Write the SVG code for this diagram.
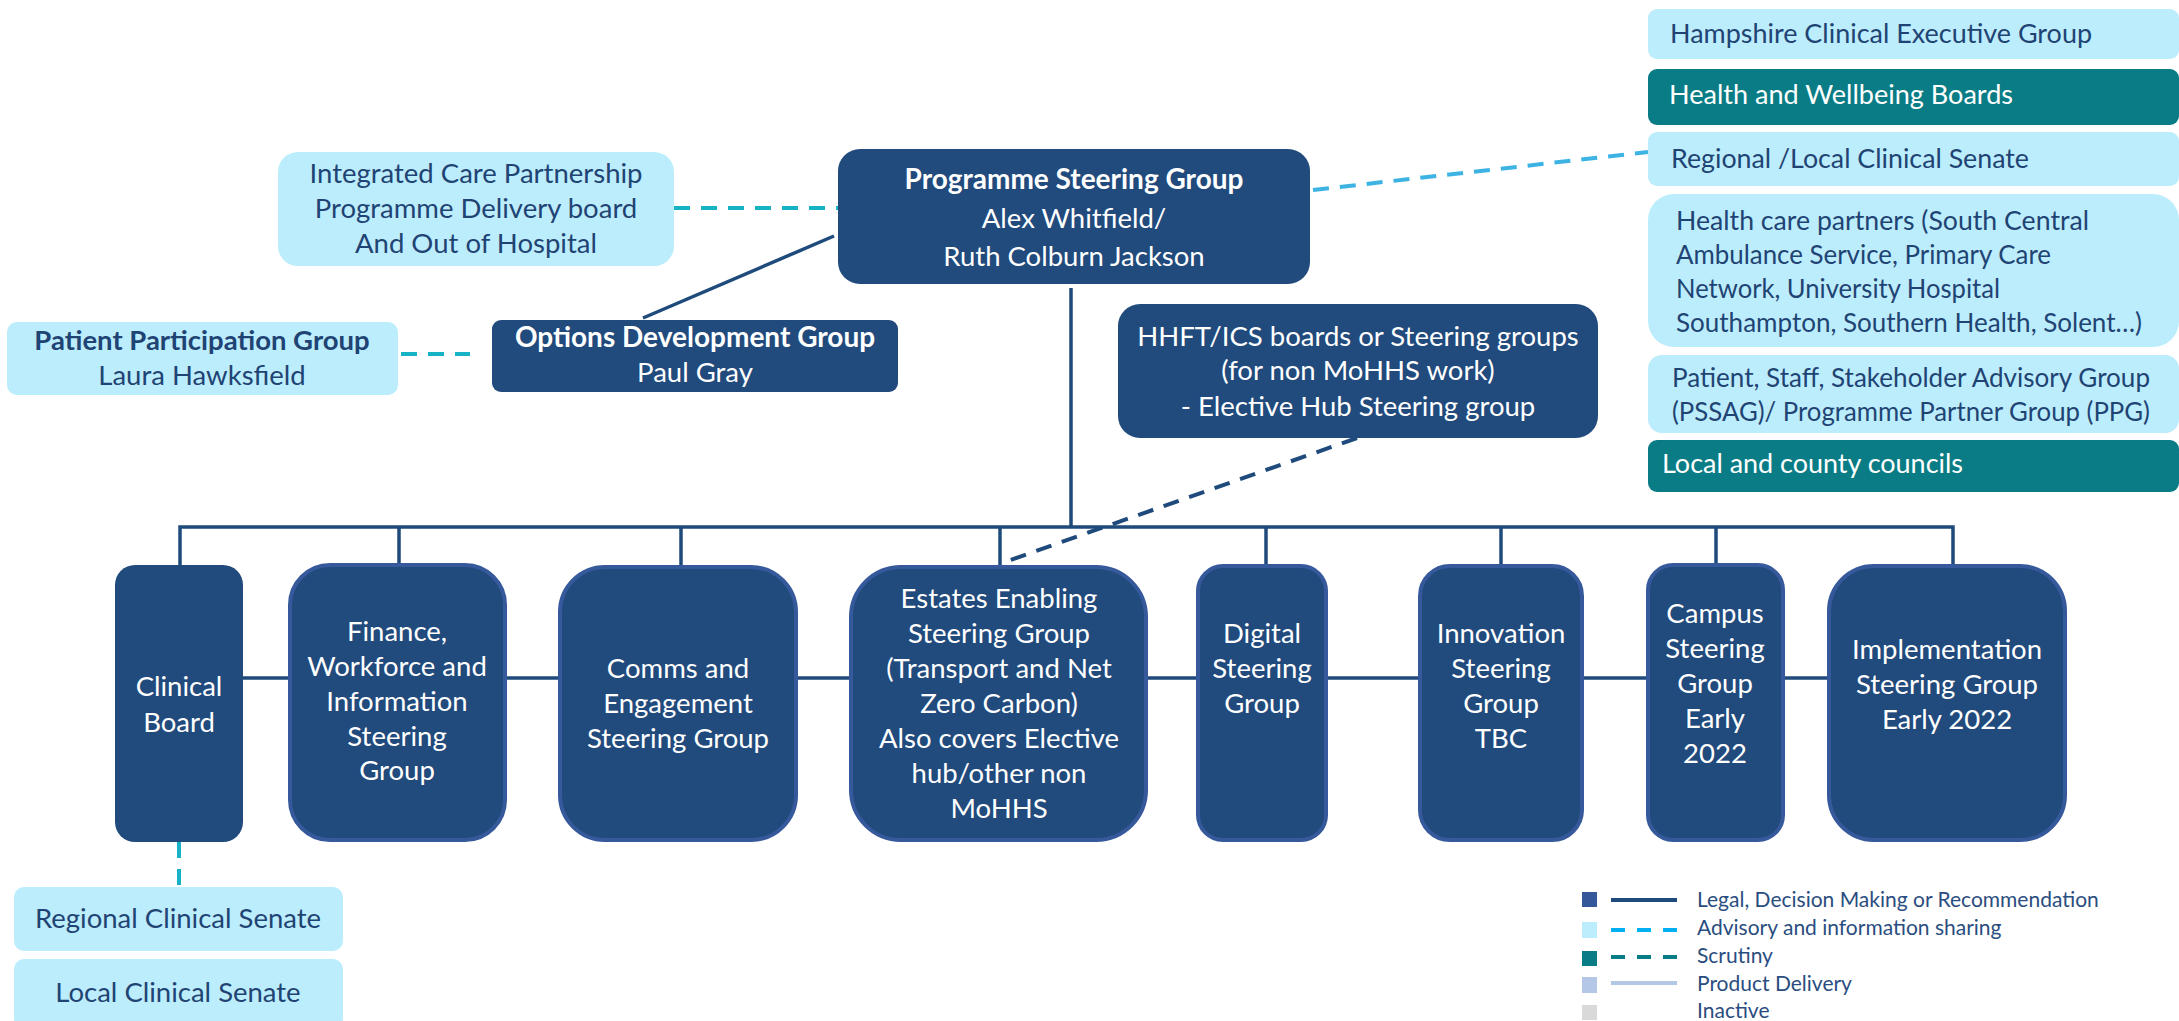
<svg xmlns="http://www.w3.org/2000/svg" width="2179" height="1021" viewBox="0 0 2179 1021">
<style>
text{font-family:Lato,"Liberation Sans",sans-serif;}
.dk{fill:#214a7d;}
.dkb{fill:#214a7d;stroke:#36599b;stroke-width:4;}
.lt{fill:#bcedfc;}
.tl{fill:#0a7c85;}
.w{fill:#ffffff;font-size:27.5px;text-anchor:middle;}
.wb{fill:#ffffff;font-size:28px;font-weight:bold;text-anchor:middle;}
.d{fill:#1f4474;font-size:27.5px;text-anchor:middle;}
.db{fill:#1f4474;font-size:27.5px;font-weight:bold;text-anchor:middle;}
.dl{fill:#1f4474;font-size:27.5px;}
.wl{fill:#ffffff;font-size:27.5px;}
.leg{fill:#2a4d80;font-size:21px;}
.solid{stroke:#1f4a7c;stroke-width:3.5;fill:none;}
.adv{stroke:#17b3c4;stroke-width:4;stroke-dasharray:16 11;fill:none;}
.adv2{stroke:#3db3e3;stroke-width:4;stroke-dasharray:16 11;fill:none;}
.nav{stroke:#1f4a7c;stroke-width:4;stroke-dasharray:16 11;fill:none;}
</style>
<g id="connectors">
<line class="adv" x1="674" y1="208" x2="838" y2="208"/>
<line class="adv" x1="401" y1="354" x2="470" y2="354"/>
<line class="solid" x1="834" y1="236" x2="643" y2="318"/>
<line class="adv2" x1="1313" y1="190" x2="1648" y2="152"/>
<line class="solid" x1="1071" y1="288" x2="1071" y2="527"/>
<polyline class="solid" points="180,565 180,527 1953,527 1953,564"/>
<line class="solid" x1="399" y1="527" x2="399" y2="563"/>
<line class="solid" x1="681" y1="527" x2="681" y2="565"/>
<line class="solid" x1="1000" y1="527" x2="1000" y2="565"/>
<line class="solid" x1="1266" y1="527" x2="1266" y2="564"/>
<line class="solid" x1="1501" y1="527" x2="1501" y2="564"/>
<line class="solid" x1="1716" y1="527" x2="1716" y2="563"/>
<line class="solid" x1="243" y1="678" x2="1827" y2="678"/>
<line class="nav" x1="1357" y1="438" x2="1002" y2="563"/>
<line class="adv" x1="179" y1="842" x2="179" y2="887"/>
</g>
<g id="psg">
<rect class="dk" x="838" y="149" width="472" height="135" rx="22"/>
<text class="wb" x="1074" y="189">Programme Steering Group</text>
<text class="w" x="1074" y="228">Alex Whitfield/</text>
<text class="w" x="1074" y="266">Ruth Colburn Jackson</text>
</g>
<g id="icp">
<rect class="lt" x="278" y="152" width="396" height="114" rx="20"/>
<text class="d" x="476" y="183">Integrated Care Partnership</text>
<text class="d" x="476" y="218">Programme Delivery board</text>
<text class="d" x="476" y="253">And Out of Hospital</text>
</g>
<g id="ppg">
<rect class="lt" x="7" y="322" width="391" height="73" rx="10"/>
<text class="db" x="202" y="350">Patient Participation Group</text>
<text class="d" x="202" y="385">Laura Hawksfield</text>
</g>
<g id="odg">
<rect class="dk" x="492" y="320" width="406" height="72" rx="9"/>
<text class="wb" x="695" y="347">Options Development Group</text>
<text class="w" x="695" y="382">Paul Gray</text>
</g>
<g id="hhft">
<rect class="dk" x="1118" y="304" width="480" height="134" rx="22"/>
<text class="w" x="1358" y="346">HHFT/ICS boards or Steering groups</text>
<text class="w" x="1358" y="380">(for non MoHHS work)</text>
<text class="w" x="1358" y="416">- Elective Hub Steering group</text>
</g>
<g id="hampshire">
<rect class="lt" x="1648" y="9" width="531" height="50" rx="9"/>
<text class="dl" x="1670" y="43" textLength="422" lengthAdjust="spacingAndGlyphs">Hampshire Clinical Executive Group</text>
</g>
<g id="hwb">
<rect class="tl" x="1648" y="69" width="531" height="56" rx="9"/>
<text class="wl" x="1669" y="104" textLength="344" lengthAdjust="spacingAndGlyphs">Health and Wellbeing Boards</text>
</g>
<g id="senate-right">
<rect class="lt" x="1648" y="132" width="531" height="54" rx="9"/>
<text class="dl" x="1671" y="168" textLength="358" lengthAdjust="spacingAndGlyphs">Regional /Local Clinical Senate</text>
</g>
<g id="hcp">
<rect class="lt" x="1648" y="194" width="531" height="153" rx="26"/>
<text class="dl" x="1676" y="230" textLength="413" lengthAdjust="spacingAndGlyphs">Health care partners (South Central</text>
<text class="dl" x="1676" y="264" textLength="375" lengthAdjust="spacingAndGlyphs">Ambulance Service, Primary Care</text>
<text class="dl" x="1676" y="298" textLength="324" lengthAdjust="spacingAndGlyphs">Network, University Hospital</text>
<text class="dl" x="1676" y="332" textLength="466" lengthAdjust="spacingAndGlyphs">Southampton, Southern Health, Solent…)</text>
</g>
<g id="pssag">
<rect class="lt" x="1648" y="355" width="531" height="78" rx="14"/>
<text class="dl" x="1672" y="387" textLength="478" lengthAdjust="spacingAndGlyphs">Patient, Staff, Stakeholder Advisory Group</text>
<text class="dl" x="1672" y="421" textLength="478" lengthAdjust="spacingAndGlyphs">(PSSAG)/ Programme Partner Group (PPG)</text>
</g>
<g id="councils">
<rect class="tl" x="1648" y="440" width="531" height="52" rx="9"/>
<text class="wl" x="1662" y="473" textLength="301" lengthAdjust="spacingAndGlyphs">Local and county councils</text>
</g>
<g id="clinical">
<rect class="dk" x="115" y="565" width="128" height="277" rx="20"/>
<text class="w" x="179" y="696">Clinical</text>
<text class="w" x="179" y="732">Board</text>
</g>
<g id="finance">
<rect class="dkb" x="290" y="565" width="215" height="275" rx="40"/>
<text class="w" x="397" y="641">Finance,</text>
<text class="w" x="397" y="676">Workforce and</text>
<text class="w" x="397" y="711">Information</text>
<text class="w" x="397" y="746">Steering</text>
<text class="w" x="397" y="780">Group</text>
</g>
<g id="comms">
<rect class="dkb" x="560" y="567" width="236" height="273" rx="45"/>
<text class="w" x="678" y="678">Comms and</text>
<text class="w" x="678" y="713">Engagement</text>
<text class="w" x="678" y="748">Steering Group</text>
</g>
<g id="estates">
<rect class="dkb" x="851" y="567" width="295" height="273" rx="50"/>
<text class="w" x="999" y="608">Estates Enabling</text>
<text class="w" x="999" y="643">Steering Group</text>
<text class="w" x="999" y="678">(Transport and Net</text>
<text class="w" x="999" y="713">Zero Carbon)</text>
<text class="w" x="999" y="748">Also covers Elective</text>
<text class="w" x="999" y="783">hub/other non</text>
<text class="w" x="999" y="818">MoHHS</text>
</g>
<g id="digital">
<rect class="dkb" x="1198" y="566" width="128" height="274" rx="25"/>
<text class="w" x="1262" y="643">Digital</text>
<text class="w" x="1262" y="678">Steering</text>
<text class="w" x="1262" y="713">Group</text>
</g>
<g id="innovation">
<rect class="dkb" x="1420" y="566" width="162" height="274" rx="30"/>
<text class="w" x="1501" y="643">Innovation</text>
<text class="w" x="1501" y="678">Steering</text>
<text class="w" x="1501" y="713">Group</text>
<text class="w" x="1501" y="748">TBC</text>
</g>
<g id="campus">
<rect class="dkb" x="1648" y="565" width="135" height="275" rx="25"/>
<text class="w" x="1715" y="623">Campus</text>
<text class="w" x="1715" y="658">Steering</text>
<text class="w" x="1715" y="693">Group</text>
<text class="w" x="1715" y="728">Early</text>
<text class="w" x="1715" y="763">2022</text>
</g>
<g id="implementation">
<rect class="dkb" x="1829" y="566" width="236" height="274" rx="45"/>
<text class="w" x="1947" y="659">Implementation</text>
<text class="w" x="1947" y="694">Steering Group</text>
<text class="w" x="1947" y="729">Early 2022</text>
</g>
<g id="senate-regional">
<rect class="lt" x="14" y="887" width="329" height="64" rx="10"/>
<text class="d" x="178" y="928">Regional Clinical Senate</text>
</g>
<g id="senate-local">
<rect class="lt" x="14" y="959" width="329" height="70" rx="10"/>
<text class="d" x="178" y="1002">Local Clinical Senate</text>
</g>
<g id="legend">
<rect x="1582" y="892" width="15" height="15" fill="#34589a"/>
<line x1="1611" y1="900" x2="1677" y2="900" stroke="#1f4a7c" stroke-width="4"/>
<text class="leg" x="1697" y="907">Legal, Decision Making or Recommendation</text>
<rect x="1582" y="922" width="15" height="16" fill="#bcedfc"/>
<line x1="1611" y1="930" x2="1677" y2="930" stroke="#00b0f0" stroke-width="4" stroke-dasharray="14 12"/>
<text class="leg" x="1697" y="935">Advisory and information sharing</text>
<rect x="1582" y="951" width="15" height="15" fill="#0a7c85"/>
<line x1="1611" y1="957" x2="1677" y2="957" stroke="#0a7c85" stroke-width="4" stroke-dasharray="14 12"/>
<text class="leg" x="1697" y="963">Scrutiny</text>
<rect x="1582" y="977" width="15" height="16" fill="#b4c7e7"/>
<line x1="1611" y1="983" x2="1677" y2="983" stroke="#b4c7e7" stroke-width="4"/>
<text class="leg" x="1697" y="991">Product Delivery</text>
<rect x="1582" y="1005" width="15" height="15" fill="#d9d9d9"/>
<text class="leg" x="1697" y="1018">Inactive</text>
</g>
</svg>
